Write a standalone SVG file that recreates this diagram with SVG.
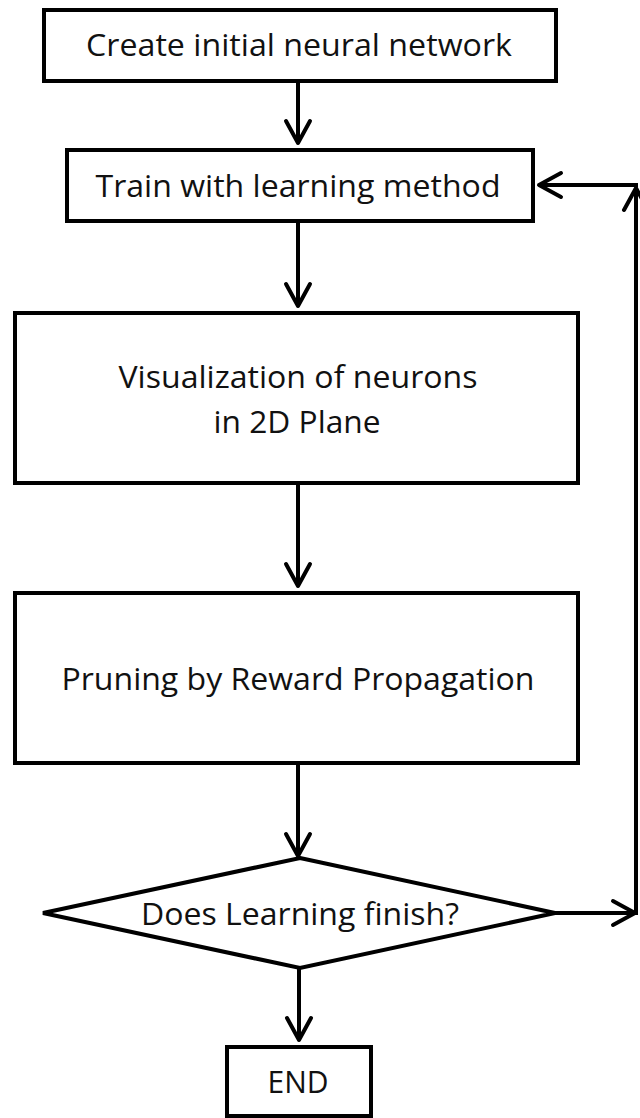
<svg xmlns="http://www.w3.org/2000/svg" width="640" height="1118" viewBox="0 0 640 1118">
<style>
.box{fill:#fff;stroke:#000;stroke-width:4}
.lbl{font-family:"Open Sans","Liberation Sans",sans-serif;font-size:31px;fill:#111;text-anchor:middle}
.conn{fill:none;stroke:#000;stroke-width:4}
</style>
<defs>
<marker id="chev" markerUnits="userSpaceOnUse" viewBox="-28 -16 32 32" markerWidth="32" markerHeight="32" refX="0" refY="0" orient="auto" overflow="visible">
<path d="M-22,-12 L0,0 L-22,12" fill="none" stroke="#000" stroke-width="4" stroke-linecap="round" stroke-linejoin="round"/>
</marker>
</defs>
<rect width="640" height="1118" fill="#fff"/>
<g id="connectors">
<line class="conn" x1="298" y1="82" x2="298" y2="143" marker-end="url(#chev)"/>
<line class="conn" x1="298" y1="223" x2="298" y2="306" marker-end="url(#chev)"/>
<line class="conn" x1="298" y1="485" x2="298" y2="586" marker-end="url(#chev)"/>
<line class="conn" x1="298" y1="765" x2="298" y2="856" marker-end="url(#chev)"/>
<line class="conn" x1="299" y1="968" x2="299" y2="1040" marker-end="url(#chev)"/>
<line class="conn" x1="555" y1="913" x2="635" y2="913" marker-end="url(#chev)"/>
<line class="conn" x1="636" y1="915" x2="636" y2="188" marker-end="url(#chev)"/>
<line class="conn" x1="638" y1="185" x2="539" y2="185" marker-end="url(#chev)"/>
</g>
<g id="n1">
<rect class="box" x="44" y="10" width="512" height="71"/>
<text class="lbl" x="299" y="56" textLength="426" lengthAdjust="spacingAndGlyphs">Create initial neural network</text>
</g>
<g id="n2">
<rect class="box" x="67" y="150" width="466" height="71"/>
<text class="lbl" x="298" y="197" textLength="405" lengthAdjust="spacingAndGlyphs">Train with learning method</text>
</g>
<g id="n3">
<rect class="box" x="15" y="313" width="563" height="170"/>
<text class="lbl" x="298" y="388" textLength="359" lengthAdjust="spacingAndGlyphs">Visualization of neurons</text>
<text class="lbl" x="297" y="433" textLength="167" lengthAdjust="spacingAndGlyphs">in 2D Plane</text>
</g>
<g id="n4">
<rect class="box" x="15" y="593" width="563" height="170"/>
<text class="lbl" x="298" y="690" textLength="473" lengthAdjust="spacingAndGlyphs">Pruning by Reward Propagation</text>
</g>
<g id="n5">
<polygon class="box" points="300,858 555,913 300,968 43,913"/>
<text class="lbl" x="300" y="925" textLength="318" lengthAdjust="spacingAndGlyphs">Does Learning finish?</text>
</g>
<g id="n6">
<rect class="box" x="227" y="1047" width="144" height="69"/>
<text class="lbl" x="298" y="1093" textLength="61" lengthAdjust="spacingAndGlyphs">END</text>
</g>
</svg>
